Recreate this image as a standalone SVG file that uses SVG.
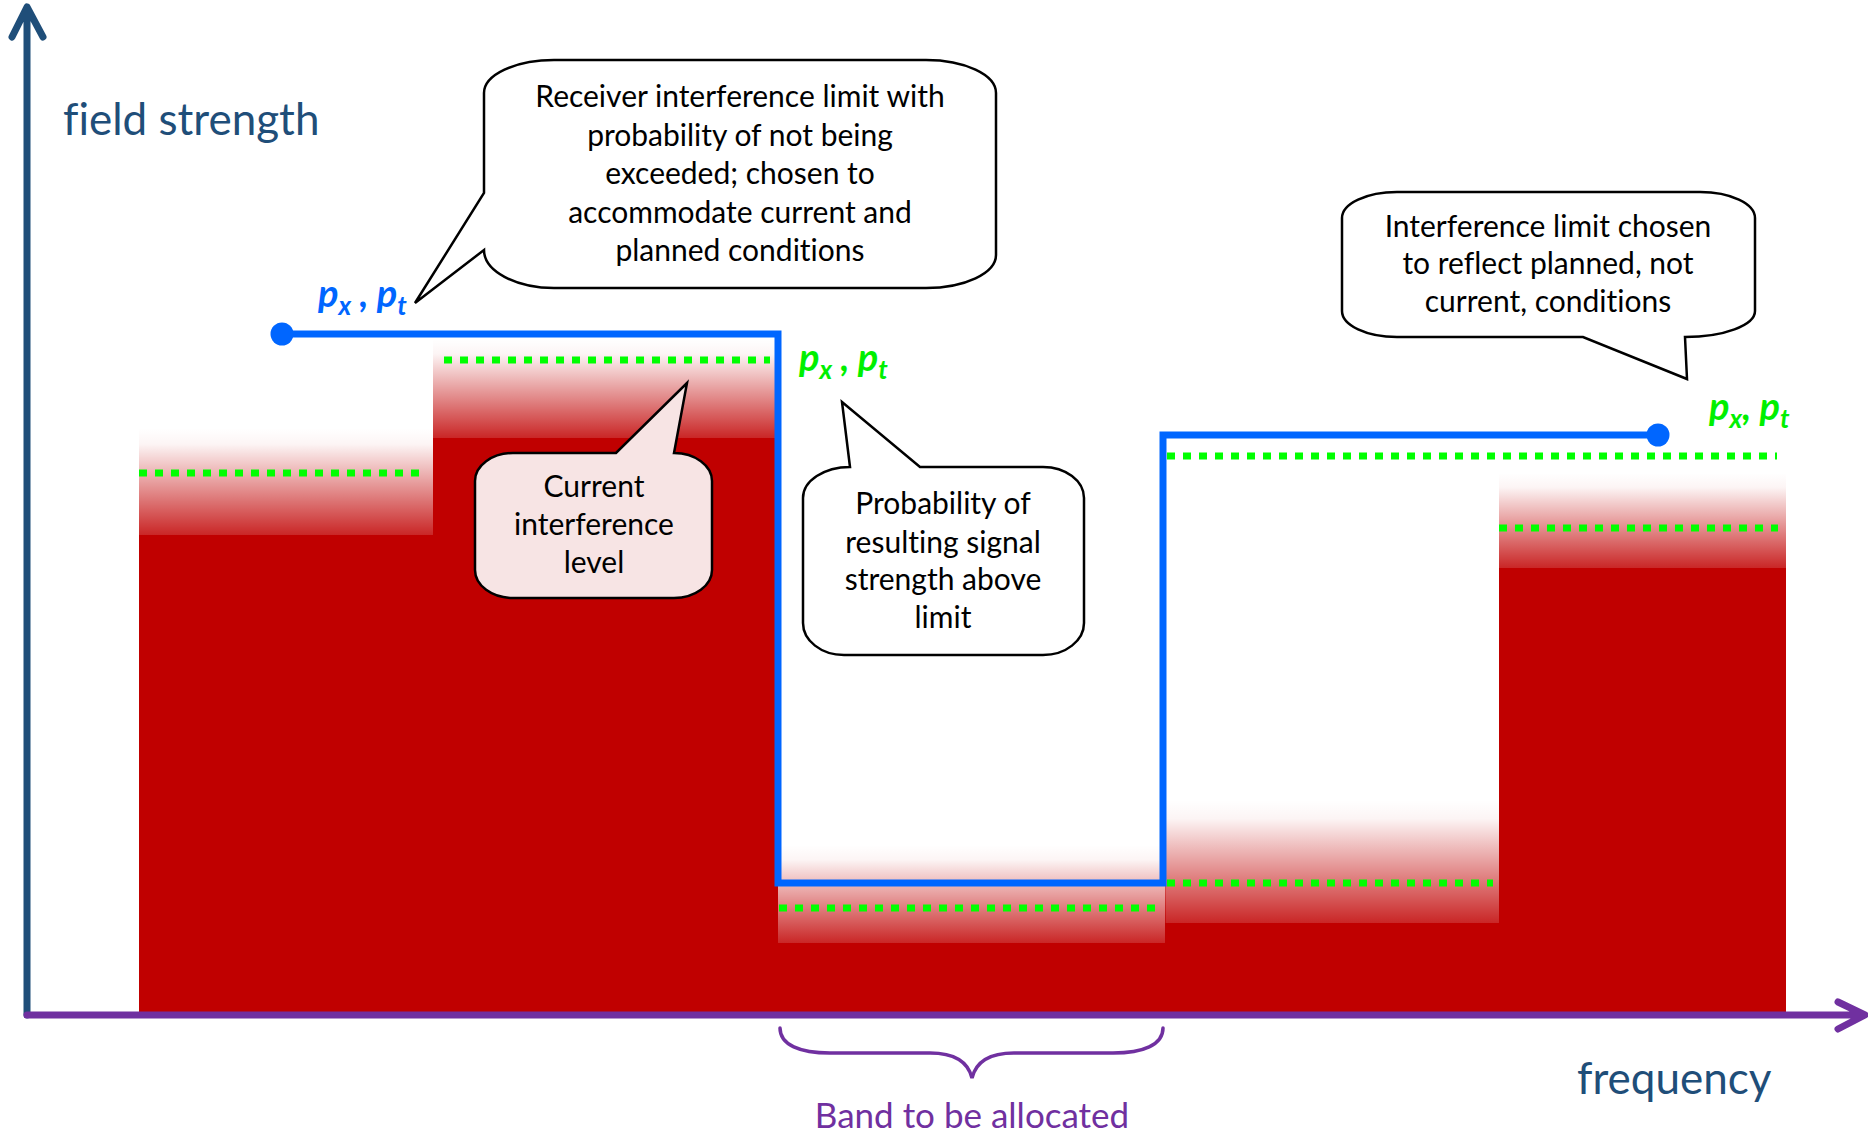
<svg xmlns="http://www.w3.org/2000/svg" width="1868" height="1134" viewBox="0 0 1868 1134">
<defs>
<linearGradient id="fade" x1="0" y1="0" x2="0" y2="1">
<stop offset="0" stop-color="#C00000" stop-opacity="0"/>
<stop offset="0.15" stop-color="#C00000" stop-opacity="0.04"/>
<stop offset="1" stop-color="#C00000" stop-opacity="0.85"/>
</linearGradient>
</defs>
<style>
text{font-variant-ligatures:none}
.t{font-family:Lato,'Liberation Sans',sans-serif;font-size:30px;fill:#000;text-anchor:middle}
.call{fill:#fff;stroke:#000;stroke-width:2.5;stroke-linejoin:miter}
.pink{fill:#F7E4E4}
.grn{fill:none;stroke:#00FF00;stroke-width:7;stroke-dasharray:8 8}
.red{fill:#C00000}
.fd{fill:url(#fade)}
.lbl{font-family:Lato,'Liberation Sans',sans-serif;font-weight:bold;font-style:italic;font-size:38px}
.ax{font-family:Lato,'Liberation Sans',sans-serif;font-size:44px;fill:#1F4E79}
</style>
<rect width="1868" height="1134" fill="#fff"/>
<g id="interference">
<rect class="fd" x="139" y="428" width="295" height="107"/>
<rect class="red" x="139" y="535" width="295" height="480"/>
<rect class="fd" x="433" y="339" width="345" height="99"/>
<rect class="red" x="433" y="438" width="345" height="577"/>
<rect class="fd" x="777" y="845" width="389" height="98"/>
<rect class="red" x="777" y="943" width="389" height="72"/>
<rect class="fd" x="1165" y="800" width="334" height="123"/>
<rect class="red" x="1165" y="923" width="334" height="92"/>
<rect class="fd" x="1499" y="473" width="287" height="95"/>
<rect class="red" x="1499" y="568" width="287" height="447"/>
</g>
<g id="current-levels">
<path class="grn" d="M139 473 H419"/>
<path class="grn" d="M444 360 H770"/>
<path class="grn" d="M779 908 H1155"/>
<path class="grn" d="M1167 883 H1493"/>
<path class="grn" d="M1167 456 H1777"/>
<path class="grn" d="M1499 528 H1778"/>
</g>
<g id="connectors">
<path d="M282 334 H778 V883 H1163 V435 H1658" fill="none" stroke="#0066FF" stroke-width="7"/>
<circle cx="282" cy="334" r="11.5" fill="#0066FF"/>
<circle cx="1658" cy="435" r="11.5" fill="#0066FF"/>
<path d="M27 1015 V8 M12 37 L27 7 L43 37" fill="none" stroke="#1F4E79" stroke-width="7" stroke-linecap="round" stroke-linejoin="round"/>
<path d="M27 1015 H1863 M1838 1002 L1865 1015 L1838 1029" fill="none" stroke="#7030A0" stroke-width="7" stroke-linecap="round" stroke-linejoin="round"/>
<path d="M780 1028 C780 1045 800 1053 830 1053 L930 1053 C955 1053 968 1062 972 1078 C976 1062 989 1053 1014 1053 L1113 1053 C1143 1053 1163 1045 1163 1028" fill="none" stroke="#7030A0" stroke-width="3.5" stroke-linecap="round"/>
</g>
<g id="axis-labels">
<text class="ax" x="63" y="135">field strength</text>
<text class="ax" x="1577" y="1094">frequency</text>
<text x="972" y="1128" text-anchor="middle" style="font-family:Lato,'Liberation Sans',sans-serif;font-size:35px;fill:#7030A0">Band to be allocated</text>
<text x="1805" y="1152" style="font-family:Lato,'Liberation Sans',sans-serif;font-size:24px;fill:#8C8C8C">6</text>
</g>
<g id="label-blue">
<text class="lbl" x="318" y="307" fill="#0066FF">p<tspan font-size="26" dy="8">x</tspan><tspan dy="-8"> , p</tspan><tspan font-size="26" dy="8">t</tspan></text>
</g>
<g id="label-green-1">
<text class="lbl" x="799" y="371" fill="#00F000">p<tspan font-size="26" dy="8">x</tspan><tspan dy="-8"> , p</tspan><tspan font-size="26" dy="8">t</tspan></text>
</g>
<g id="label-green-2">
<text class="lbl" x="1709" y="420" fill="#00F000">p<tspan font-size="26" dy="8">x</tspan><tspan dy="-8">, p</tspan><tspan font-size="26" dy="8">t</tspan></text>
</g>
<g id="callout-limit">
<path class="call" d="M554 60 L926 60 A70 33 0 0 1 996 93 L996 255 A70 33 0 0 1 926 288 L554 288 A70 38 0 0 1 484 250 L415 303 L484 193 L484 93 A70 33 0 0 1 554 60 Z"/>
<text class="t" x="740" y="107">Receiver interference limit with</text>
<text class="t" x="740" y="146">probability of not being</text>
<text class="t" x="740" y="184">exceeded; chosen to</text>
<text class="t" x="740" y="223">accommodate current and</text>
<text class="t" x="740" y="261">planned conditions</text>
</g>
<g id="callout-current">
<path class="call pink" d="M513 453 L616 453 L687 383 L674 453 A38 28 0 0 1 712 481 L712 570 A38 28 0 0 1 674 598 L513 598 A38 28 0 0 1 475 570 L475 481 A38 28 0 0 1 513 453 Z"/>
<text class="t" x="594" y="497">Current</text>
<text class="t" x="594" y="535">interference</text>
<text class="t" x="594" y="573">level</text>
</g>
<g id="callout-probability">
<path class="call" d="M850 467 L842 402 L920 467 L1043 467 A41 31 0 0 1 1084 498 L1084 623 A41 32 0 0 1 1043 655 L844 655 A41 32 0 0 1 803 623 L803 498 A47 31 0 0 1 850 467 Z"/>
<text class="t" x="943" y="514">Probability of</text>
<text class="t" x="943" y="553">resulting signal</text>
<text class="t" x="943" y="590">strength above</text>
<text class="t" x="943" y="628">limit</text>
</g>
<g id="callout-planned">
<path class="call" d="M1397 192 L1700 192 A55 26 0 0 1 1755 218 L1755 311 A70 26 0 0 1 1685 337 L1687 379 L1583 337 L1397 337 A55 26 0 0 1 1342 311 L1342 218 A55 26 0 0 1 1397 192 Z"/>
<text class="t" x="1548" y="237">Interference limit chosen</text>
<text class="t" x="1548" y="274">to reflect planned, not</text>
<text class="t" x="1548" y="312">current, conditions</text>
</g>
</svg>
